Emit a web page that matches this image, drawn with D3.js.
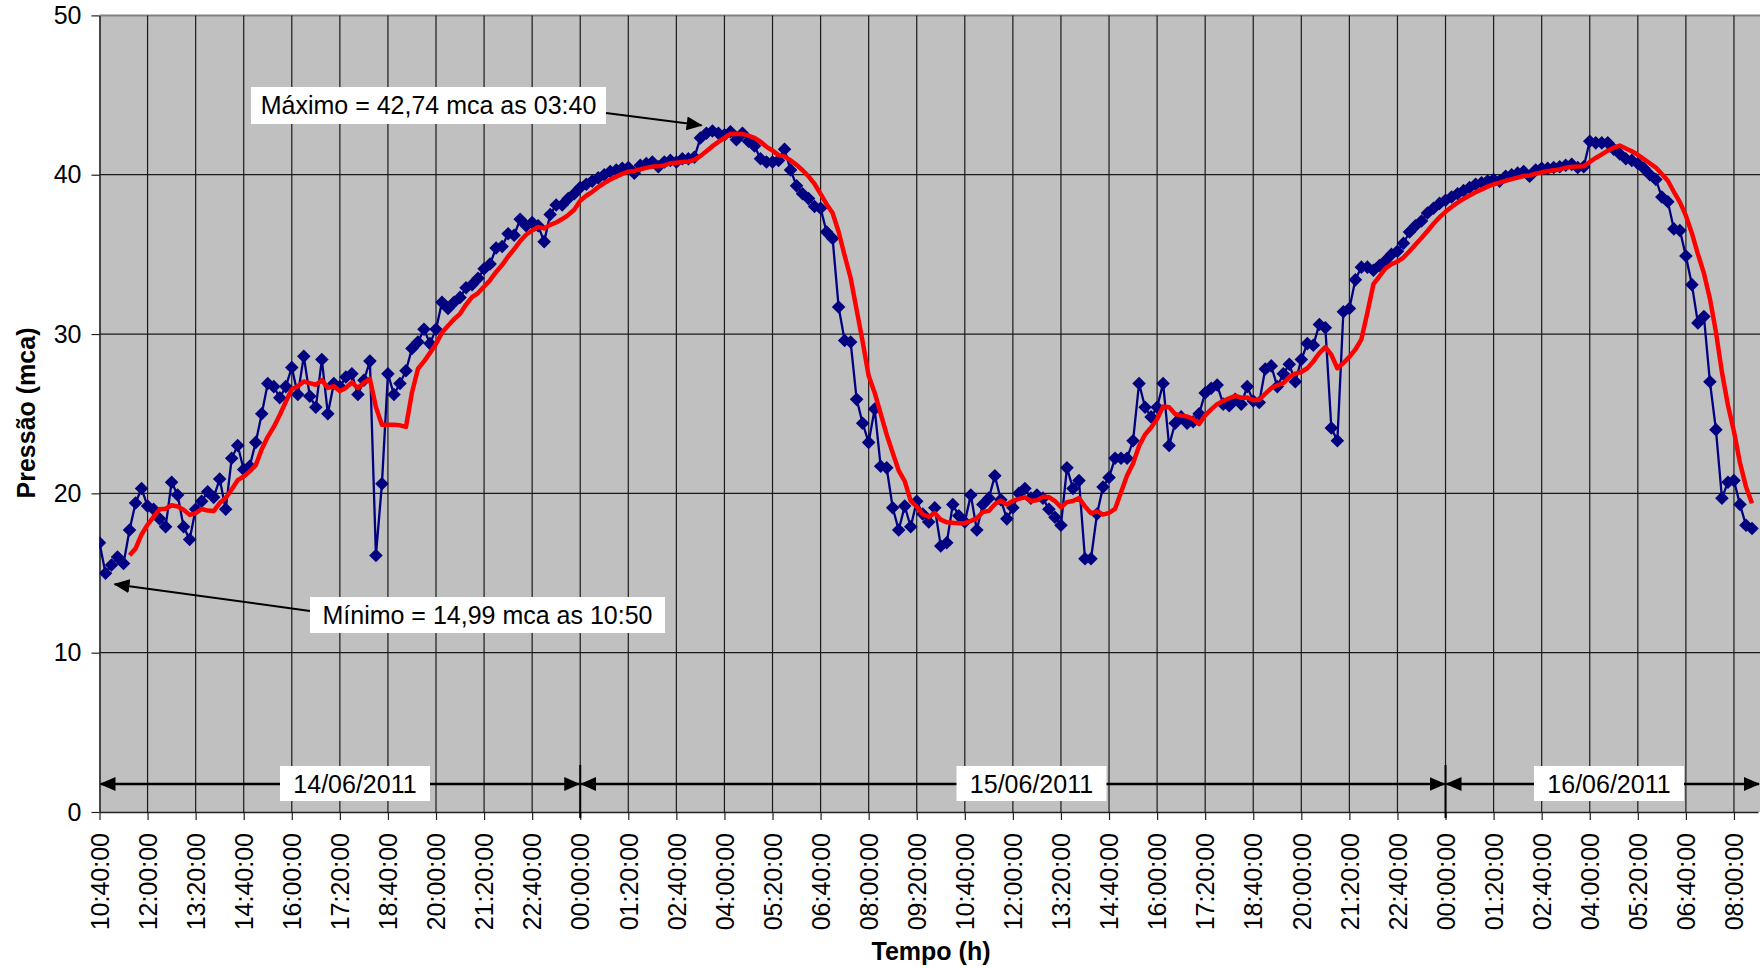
<!DOCTYPE html>
<html>
<head>
<meta charset="utf-8">
<script src="https://cdnjs.cloudflare.com/ajax/libs/d3/7.8.5/d3.min.js"></script>
<style>
  body { margin: 0; background: #fff; }
  svg { display: block; font-family: "Liberation Sans", Arial, sans-serif; }
</style>
</head>
<body>
<svg width="1760" height="968"></svg>
<script>
// dados: leituras a cada 10 min, de 14/06/2011 10:40 em diante

var tickLabels = [
  "10:40:00","12:00:00","13:20:00","14:40:00","16:00:00","17:20:00","18:40:00",
  "20:00:00","21:20:00","22:40:00","00:00:00","01:20:00","02:40:00","04:00:00",
  "05:20:00","06:40:00","08:00:00","09:20:00","10:40:00","12:00:00","13:20:00",
  "14:40:00","16:00:00","17:20:00","18:40:00","20:00:00","21:20:00","22:40:00",
  "00:00:00","01:20:00","02:40:00","04:00:00","05:20:00","06:40:00","08:00:00"
];

var pressao = [
  16.9,14.99,15.5,16.0,15.6,17.7,19.4,20.3,
  19.2,19.0,18.4,17.9,20.7,19.9,17.9,17.1,
  19.0,19.5,20.1,19.75,20.9,19.0,22.2,23.0,
  21.5,21.7,23.2,25.0,26.9,26.7,26.0,26.7,
  27.9,26.2,28.6,26.1,25.4,28.4,25.0,26.9,
  26.7,27.3,27.5,26.2,27.1,28.3,16.1,20.6,
  27.5,26.2,26.9,27.7,29.1,29.5,30.3,29.4,
  30.3,32.0,31.6,32.0,32.3,32.9,33.1,33.5,
  34.1,34.4,35.4,35.5,36.3,36.2,37.2,36.8,
  37.0,36.8,35.8,37.5,38.1,38.1,38.5,38.8,
  39.2,39.4,39.6,39.8,40.0,40.2,40.3,40.4,
  40.45,40.1,40.6,40.7,40.8,40.5,40.8,40.9,
  40.8,41.0,41.0,41.1,42.3,42.6,42.74,42.6,
  42.5,42.7,42.2,42.6,42.1,41.8,41.0,40.8,
  40.8,40.9,41.6,40.3,39.3,38.8,38.5,38.0,
  37.9,36.4,36.0,31.7,29.6,29.5,25.9,24.4,
  23.2,25.3,21.7,21.6,19.1,17.7,19.2,17.9,
  19.5,18.7,18.2,19.1,16.7,16.9,19.3,18.6,
  18.2,19.9,17.7,19.3,19.7,21.1,19.6,18.4,
  19.1,20.0,20.3,19.7,19.9,19.7,19.0,18.5,
  18.0,21.6,20.3,20.8,15.9,15.9,18.7,20.4,
  21.0,22.2,22.2,22.2,23.3,26.9,25.4,24.8,
  25.4,26.9,23.0,24.4,24.8,24.4,24.5,25.0,
  26.3,26.6,26.8,25.6,25.5,25.9,25.6,26.7,
  25.8,25.7,27.8,28.0,26.7,27.5,28.1,27.0,
  28.4,29.4,29.3,30.6,30.4,24.1,23.3,31.4,
  31.6,33.4,34.2,34.2,34.0,34.3,34.6,35.0,
  35.2,35.7,36.4,36.8,37.1,37.6,37.9,38.2,
  38.4,38.6,38.8,39.0,39.2,39.4,39.5,39.6,
  39.7,39.6,39.9,40.0,40.1,40.2,39.9,40.3,
  40.4,40.4,40.45,40.5,40.6,40.65,40.45,40.5,
  42.1,42.0,42.0,42.0,41.6,41.3,41.0,40.9,
  40.7,40.4,40.0,39.7,38.6,38.3,36.6,36.5,
  34.9,33.1,30.7,31.1,27.0,24.0,19.7,20.7,
  20.8,19.3,18.0,17.8
];

var mediaInicio = 5;
var mediaMovel = [
  16.12,16.53,17.42,18.03,18.53,19.0,19.03,19.25,19.18,18.97,18.65,18.75,19.02,18.92,18.89,
  19.39,19.71,20.24,20.83,21.06,21.38,21.77,22.77,23.55,24.17,24.92,25.75,26.53,26.73,27.02,
  26.92,26.82,27.1,26.62,26.73,26.42,26.62,26.97,26.6,26.95,27.18,25.42,24.3,24.3,24.3,
  24.27,24.17,26.33,27.82,28.28,28.82,29.38,30.1,30.52,30.93,31.27,31.85,32.32,32.57,32.98,
  33.38,33.9,34.33,34.87,35.32,35.83,36.23,36.5,36.72,36.63,36.85,37.0,37.22,37.47,37.8,
  38.37,38.68,38.93,39.22,39.47,39.7,39.88,40.05,40.19,40.24,40.34,40.43,40.51,40.53,40.58,
  40.72,40.75,40.8,40.83,40.93,41.18,41.47,41.79,42.06,42.31,42.57,42.56,42.56,42.45,42.32,
  42.07,41.75,41.52,41.23,41.15,40.9,40.62,40.28,39.9,39.42,38.8,38.15,37.6,36.42,34.93,
  33.52,31.52,29.52,27.38,26.32,25.0,23.68,22.55,21.43,20.77,19.53,19.17,18.68,18.53,18.77,
  18.35,18.18,18.15,18.13,18.13,18.27,18.43,18.83,18.9,19.32,19.55,19.3,19.53,19.65,19.75,
  19.52,19.57,19.78,19.77,19.52,19.13,19.45,19.52,19.7,19.18,18.75,18.87,18.67,18.78,19.02,
  20.07,21.12,21.88,22.97,23.7,24.13,24.67,25.45,25.4,24.98,24.88,24.82,24.67,24.35,24.9,
  25.27,25.6,25.8,25.97,26.12,26.0,26.02,25.85,25.87,26.25,26.6,26.78,26.92,27.3,27.52,
  27.62,27.85,28.28,28.8,29.18,28.7,27.85,28.18,28.57,29.03,29.67,31.35,33.13,33.62,34.12,
  34.38,34.55,34.8,35.2,35.62,36.03,36.47,36.92,37.33,37.67,37.97,38.25,38.48,38.7,38.9,
  39.08,39.25,39.4,39.5,39.62,39.72,39.82,39.92,39.95,40.07,40.15,40.22,40.28,40.33,40.44,
  40.5,40.51,40.53,40.8,41.05,41.28,41.51,41.7,41.83,41.65,41.47,41.25,40.98,40.72,40.45,
  40.05,39.62,38.93,38.28,37.43,36.33,35.02,33.82,32.22,30.13,27.6,25.53,23.88,21.92,20.42,
  19.38
];

var yTicks = [0, 10, 20, 30, 40, 50];

// dias: índice inicial / final na série
var dias = [
  {label: "14/06/2011", from: 0, to: 80},
  {label: "15/06/2011", from: 80, to: 224},
  {label: "16/06/2011", from: 224, to: 276}
];

var svg = d3.select("svg");
var W = 1760, H = 968;
var pLeft = 99.5, pTop = 15.4, pBottom = 812, pRight = 1760;

var x = d3.scaleLinear().domain([0, 276]).range([pLeft, 1758]);
var y = d3.scaleLinear().domain([0, 50]).range([pBottom, pTop]);

svg.append("rect").attr("width", W).attr("height", H).attr("fill", "#fff");

var defs = svg.append("defs");
defs.append("clipPath").attr("id", "plot")
  .append("rect").attr("x", pLeft).attr("y", pTop - 8)
  .attr("width", pRight - pLeft).attr("height", pBottom - pTop + 8);

var arrow = defs.append("marker")
  .attr("id", "seta").attr("markerUnits", "userSpaceOnUse")
  .attr("markerWidth", 16).attr("markerHeight", 14)
  .attr("refX", 15).attr("refY", 7).attr("orient", "auto-start-reverse");
arrow.append("path").attr("d", "M0,0 L16,7 L0,14 Z").attr("fill", "#000");

// área do gráfico
svg.append("rect")
  .attr("x", pLeft).attr("y", pTop)
  .attr("width", pRight - pLeft + 2).attr("height", pBottom - pTop)
  .attr("fill", "#c0c0c0");

svg.append("line")
  .attr("x1", pLeft).attr("x2", pRight).attr("y1", pTop).attr("y2", pTop)
  .attr("stroke", "#808080").attr("stroke-width", 2);

var xTickVals = d3.range(0, 273, 8);

svg.append("g").selectAll("line")
  .data(xTickVals.slice(1))
  .enter().append("line")
  .attr("x1", function(d) { return x(d); })
  .attr("x2", function(d) { return x(d); })
  .attr("y1", pTop).attr("y2", pBottom)
  .attr("stroke", "#1a1a1a").attr("stroke-width", 1.2);

svg.append("g").selectAll("line")
  .data(yTicks.slice(1, -1))
  .enter().append("line")
  .attr("x1", pLeft).attr("x2", pRight)
  .attr("y1", function(d) { return y(d); })
  .attr("y2", function(d) { return y(d); })
  .attr("stroke", "#1a1a1a").attr("stroke-width", 1.2);

// eixos
var xAxis = svg.append("g")
  .attr("transform", "translate(0," + pBottom + ")")
  .call(d3.axisBottom(x).tickValues(xTickVals).tickSize(8).tickSizeOuter(0)
    .tickFormat(function(d, i) { return tickLabels[i]; }));
xAxis.select(".domain").attr("stroke", "#222").attr("stroke-width", 1.6);
xAxis.selectAll(".tick line").attr("stroke", "#222").attr("stroke-width", 1.2);
xAxis.selectAll(".tick text")
  .attr("transform", "rotate(-90)")
  .attr("x", -21).attr("y", 0).attr("dy", "0.35em")
  .attr("text-anchor", "end")
  .attr("font-size", 25).attr("font-family", "Liberation Sans, Arial, sans-serif")
  .attr("fill", "#000");

var yAxis = svg.append("g")
  .attr("transform", "translate(" + pLeft + ",0)")
  .call(d3.axisLeft(y).tickValues(yTicks).tickSize(8).tickSizeOuter(0).tickPadding(10));
yAxis.select(".domain").attr("stroke", "#222").attr("stroke-width", 1.6);
yAxis.selectAll(".tick line").attr("stroke", "#222").attr("stroke-width", 1.2);
yAxis.selectAll(".tick text")
  .attr("font-size", 25).attr("font-family", "Liberation Sans, Arial, sans-serif")
  .attr("fill", "#000");

// séries
var plot = svg.append("g").attr("clip-path", "url(#plot)");

var line = d3.line()
  .x(function(d, i) { return x(i); })
  .y(function(d) { return y(d); });

plot.append("path")
  .datum(pressao)
  .attr("d", line)
  .attr("fill", "none").attr("stroke", "#000080").attr("stroke-width", 2.3);

plot.append("g").selectAll("path")
  .data(pressao)
  .enter().append("path")
  .attr("d", d3.symbol(d3.symbolSquare, 92))
  .attr("transform", function(d, i) { return "translate(" + x(i) + "," + y(d) + ") rotate(45)"; })
  .attr("fill", "#000080");

var mm = d3.line()
  .x(function(d, i) { return x(i + mediaInicio); })
  .y(function(d) { return y(d); });

plot.append("path")
  .datum(mediaMovel)
  .attr("d", mm)
  .attr("fill", "none").attr("stroke", "#ff0000").attr("stroke-width", 4.5)
  .attr("stroke-linejoin", "round");

// faixas de data
var yDia = 784;
var rotuloDiaX = [355, 1031.5, 1609];
var gDias = svg.append("g");

dias.forEach(function(d, i) {
  var x1 = x(d.from), x2 = d.to >= 276 ? pRight : x(d.to);
  gDias.append("line")
    .attr("x1", x1 + 1).attr("x2", x2 - 1)
    .attr("y1", yDia).attr("y2", yDia)
    .attr("stroke", "#000").attr("stroke-width", 2.5)
    .attr("marker-start", "url(#seta)").attr("marker-end", "url(#seta)");
  gDias.append("rect")
    .attr("x", rotuloDiaX[i] - 75).attr("y", yDia - 18)
    .attr("width", 150).attr("height", 35)
    .attr("fill", "#fff");
  gDias.append("text")
    .attr("x", rotuloDiaX[i]).attr("y", yDia)
    .attr("dy", "0.35em").attr("text-anchor", "middle")
    .attr("font-size", 25).text(d.label);
});

[80, 224].forEach(function(d) {
  gDias.append("line")
    .attr("x1", x(d)).attr("x2", x(d))
    .attr("y1", 765).attr("y2", 818)
    .attr("stroke", "#000").attr("stroke-width", 2);
});

// anotações de máximo e mínimo
var anotacoes = [
  {text: "Máximo = 42,74 mca as 03:40", box: [251, 87, 355, 37], from: [606, 113], tip: [100.2, 43.1]},
  {text: "Mínimo = 14,99 mca as 10:50", box: [310, 597, 355, 36], from: [310, 611], tip: [2.5, 14.3]}
];

var gAnot = svg.append("g");
anotacoes.forEach(function(a) {
  gAnot.append("line")
    .attr("x1", a.from[0]).attr("y1", a.from[1])
    .attr("x2", x(a.tip[0])).attr("y2", y(a.tip[1]))
    .attr("stroke", "#000").attr("stroke-width", 2)
    .attr("marker-end", "url(#seta)");
  gAnot.append("rect")
    .attr("x", a.box[0]).attr("y", a.box[1])
    .attr("width", a.box[2]).attr("height", a.box[3])
    .attr("fill", "#fff");
  gAnot.append("text")
    .attr("x", a.box[0] + a.box[2] / 2).attr("y", a.box[1] + a.box[3] / 2)
    .attr("dy", "0.35em").attr("text-anchor", "middle")
    .attr("font-size", 25).text(a.text);
});

// títulos dos eixos
svg.append("text")
  .attr("transform", "translate(35,413) rotate(-90)")
  .attr("text-anchor", "middle").attr("font-size", 25).attr("font-weight", "bold")
  .text("Pressão (mca)");

svg.append("text")
  .attr("x", 931).attr("y", 960)
  .attr("text-anchor", "middle").attr("font-size", 25).attr("font-weight", "bold")
  .text("Tempo (h)");
</script>
</body>
</html>
